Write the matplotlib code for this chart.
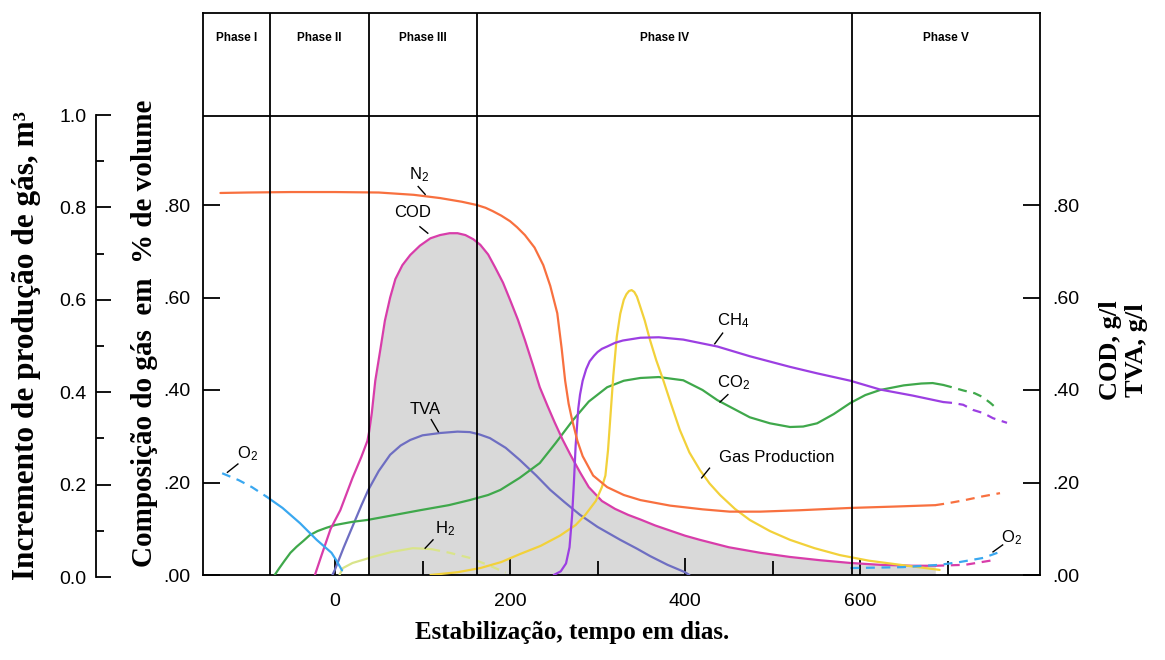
import matplotlib
matplotlib.use("Agg")
import matplotlib.pyplot as plt
import numpy as np

plt.rcParams['mathtext.fontset'] = 'custom'
plt.rcParams['mathtext.rm'] = 'Liberation Sans'
plt.rcParams['mathtext.it'] = 'Liberation Sans:italic'
plt.rcParams['mathtext.bf'] = 'Liberation Sans:bold'

# ---------------- data (days, fraction) ----------------
phase_bounds = [-74, 39, 162, 591]
phase_names = ["Phase I", "Phase II", "Phase III", "Phase IV", "Phase V"]

n2_days = [-131, -100, -50, 0, 50, 90, 120, 145, 162, 172, 180, 190, 200, 208, 217, 228, 238, 246, 254,
           259, 263, 267, 271, 277, 283, 295, 311, 330, 349, 383, 420, 451, 486, 531, 589, 640, 686]
n2_vals = [0.826, 0.827, 0.828, 0.828, 0.827, 0.822, 0.815, 0.807, 0.800, 0.794, 0.787, 0.777, 0.765,
           0.752, 0.735, 0.708, 0.670, 0.625, 0.566, 0.490, 0.420, 0.370, 0.335, 0.290, 0.257, 0.215,
           0.190, 0.173, 0.162, 0.150, 0.142, 0.137, 0.137, 0.140, 0.145, 0.148, 0.151]
n2_dash_days = [686, 700, 720, 740, 760]
n2_dash_vals = [0.151, 0.155, 0.162, 0.170, 0.177]

cod_days = [-23, -15, -5, 6, 20, 30, 37, 39, 42, 46, 52, 57, 63, 69, 77, 86, 97, 109, 120, 131, 140,
            149, 158, 166, 175, 183, 192, 200, 209, 217, 226, 234, 243, 251, 260, 269, 280, 290, 305,
            320, 335, 349, 366, 383, 400, 417, 450, 486, 520, 554, 589, 623, 660, 686]
cod_vals = [0.0, 0.045, 0.10, 0.14, 0.21, 0.255, 0.29, 0.31, 0.35, 0.42, 0.49, 0.55, 0.60, 0.64, 0.67,
            0.692, 0.712, 0.728, 0.735, 0.739, 0.739, 0.735, 0.726, 0.714, 0.693, 0.665, 0.632, 0.595,
            0.552, 0.508, 0.455, 0.406, 0.365, 0.330, 0.293, 0.260, 0.222, 0.190, 0.160, 0.143, 0.130,
            0.120, 0.107, 0.096, 0.085, 0.076, 0.060, 0.048, 0.039, 0.032, 0.026, 0.022, 0.020, 0.020]
cod_dash_days = [686, 720, 752]
cod_dash_vals = [0.020, 0.022, 0.032]

tva_days = [-3, 0, 10, 20, 30, 38, 50, 63, 75, 86, 100, 120, 140, 154, 165, 177, 195, 211, 230, 246,
            262, 280, 300, 326, 345, 360, 380, 400, 405]
tva_vals = [0.0, 0.012, 0.06, 0.105, 0.15, 0.184, 0.225, 0.26, 0.28, 0.292, 0.302, 0.307, 0.310, 0.309,
            0.304, 0.296, 0.275, 0.249, 0.215, 0.184, 0.158, 0.130, 0.104, 0.076, 0.057, 0.041, 0.022,
            0.006, 0.0]

ch4_days = [250, 258, 264, 268, 271, 273, 275, 278, 280, 283, 287, 291, 296, 300, 305, 311, 320, 329,
            349, 370, 398, 437, 474, 520, 551, 589, 623, 660, 695]
ch4_vals = [0.0, 0.008, 0.025, 0.06, 0.13, 0.20, 0.28, 0.36, 0.39, 0.42, 0.445, 0.462, 0.474, 0.482,
            0.489, 0.494, 0.502, 0.507, 0.513, 0.514, 0.509, 0.494, 0.473, 0.450, 0.436, 0.420, 0.401,
            0.388, 0.374]
ch4_dash_days = [695, 706, 718, 729, 741, 752, 768]
ch4_dash_vals = [0.374, 0.372, 0.368, 0.357, 0.350, 0.339, 0.329]

co2_days = [-69, -64, -58, -51, -44, -36, -29, -20, -10, 0, 20, 37, 60, 97, 130, 154, 175, 189, 211,
            234, 252, 272, 290, 311, 330, 349, 370, 398, 420, 437, 455, 474, 497, 520, 535, 551, 570,
            589, 606, 623, 650, 670, 683, 695]
co2_vals = [0.0, 0.014, 0.030, 0.048, 0.061, 0.074, 0.086, 0.095, 0.102, 0.108, 0.115, 0.119, 0.127,
            0.140, 0.151, 0.162, 0.173, 0.184, 0.210, 0.242, 0.285, 0.335, 0.375, 0.406, 0.420, 0.426,
            0.428, 0.421, 0.400, 0.378, 0.360, 0.341, 0.328, 0.320, 0.321, 0.328, 0.348, 0.372, 0.389,
            0.400, 0.410, 0.414, 0.415, 0.411]
co2_dash_days = [695, 705, 718, 731, 740, 749, 758]
co2_dash_vals = [0.411, 0.406, 0.399, 0.393, 0.385, 0.372, 0.357]

gas_days = [109, 140, 166, 190, 211, 235, 257, 275, 286, 298, 305, 309, 312, 315, 318, 322, 326, 330,
            333, 336, 339, 342, 345, 348, 354, 360, 367, 375, 384, 394, 405, 417, 428, 440, 457, 474,
            497, 520, 548, 577, 610, 646, 691]
gas_vals = [0.0, 0.006, 0.015, 0.028, 0.045, 0.063, 0.085, 0.108, 0.130, 0.160, 0.190, 0.215, 0.27,
            0.35, 0.43, 0.515, 0.565, 0.595, 0.607, 0.614, 0.616, 0.612, 0.602, 0.585, 0.550, 0.508,
            0.465, 0.422, 0.370, 0.314, 0.265, 0.227, 0.198, 0.173, 0.143, 0.119, 0.095, 0.076, 0.058,
            0.043, 0.031, 0.022, 0.011]

o2_dash_days = [-129, -110, -95, -78]
o2_dash_vals = [0.220, 0.205, 0.190, 0.169]
o2_days = [-78, -60, -40, -21, -4, 2, 8]
o2_vals = [0.169, 0.145, 0.112, 0.076, 0.048, 0.03, 0.01]
o2_end_days = [589, 620, 649, 691, 714, 741, 757]
o2_end_vals = [0.015, 0.016, 0.017, 0.022, 0.028, 0.037, 0.048]

h2_days = [5, 9, 20, 43, 65, 89, 110]
h2_vals = [0.0, 0.015, 0.026, 0.039, 0.050, 0.058, 0.056]
h2_dash_days = [110, 131, 154, 177, 195]
h2_dash_vals = [0.056, 0.048, 0.037, 0.020, 0.005]

y_ticks = [0.0, 0.2, 0.4, 0.6, 0.8]
y_ticklabels = [".00", ".20", ".40", ".60", ".80"]
outer_ticks = [0.0, 0.2, 0.4, 0.6, 0.8, 1.0]
outer_ticklabels = ["0.0", "0.2", "0.4", "0.6", "0.8", "1.0"]
x_ticks = [0, 200, 400, 600]
x_minor = [100, 300, 500, 700]

# ---------------- figure ----------------
W, H = 1165, 660
fig = plt.figure(figsize=(W / 100, H / 100), dpi=100)

def fx(px):
    return px / W

def fy(py):
    return (H - py) / H

ax = fig.add_axes([fx(203), fy(575), fx(1040) - fx(203), fy(13) - fy(575)])
ax.set_xlim(-150.9, 805.7)
ax.set_ylim(0, 562 / 462.5)

tickfont = dict(family=['Liberation Sans Narrow', 'Liberation Sans'], size=14)
c_n2 = '#F8703F'
c_cod = '#D83DAA'
c_tva = '#6E6EC2'
c_ch4 = '#9C3FE2'
c_co2 = '#3FA84B'
c_gas = '#F2D13A'
c_o2 = '#3AA8F0'
c_h2 = '#D9E48A'
lw = 1.6
dash = (0, (4, 3))

cd = np.array(cod_days, dtype=float)
cv = np.array(cod_vals)
ax.fill_between(cd, 0, cv, where=cd >= phase_bounds[1], color='#D9D9D9', zorder=1, linewidth=0)

def line(x, y, c, z, ls='-'):
    ax.plot(x, y, color=c, lw=lw, ls=ls, zorder=z, solid_joinstyle='round', solid_capstyle='round')

line(h2_days, h2_vals, c_h2, 3)
line(h2_dash_days, h2_dash_vals, c_h2, 3, dash)
line(tva_days, tva_vals, c_tva, 3)
line(co2_days, co2_vals, c_co2, 3)
line(co2_dash_days, co2_dash_vals, c_co2, 3, dash)
line(cod_days, cod_vals, c_cod, 4)
line(cod_dash_days, cod_dash_vals, c_cod, 4, dash)
line(gas_days, gas_vals, c_gas, 4)
line(ch4_days, ch4_vals, c_ch4, 4)
line(ch4_dash_days, ch4_dash_vals, c_ch4, 4, dash)
line(n2_days, n2_vals, c_n2, 5)
line(n2_dash_days, n2_dash_vals, c_n2, 5, dash)
line(o2_dash_days, o2_dash_vals, c_o2, 5, dash)
line(o2_days, o2_vals, c_o2, 5)
line(o2_end_days, o2_end_vals, c_o2, 5, dash)

# phase frame
top = ax.get_ylim()[1]
ax.vlines(phase_bounds, 0, top, color='black', lw=1.3, zorder=6)
ax.axhline(0.992, color='black', lw=1.3, zorder=6)
edges = [ax.get_xlim()[0]] + phase_bounds + [ax.get_xlim()[1]]
for i, name in enumerate(phase_names):
    ax.text((edges[i] + edges[i + 1]) / 2, 1.161, name, ha='center', va='center',
            fontsize=8.5, fontweight='bold', family='Liberation Sans')

for s in ax.spines.values():
    s.set_linewidth(1.3)

ax.set_yticks(y_ticks)
ax.set_yticklabels(y_ticklabels)
ax.set_xticks(x_ticks)
ax.set_xticks(x_minor, minor=True)
ax.yaxis.set_ticks_position('both')
ax.tick_params(axis='y', which='major', direction='in', length=12, width=1.3, pad=9,
               labelright=True, labelleft=True)
ax.tick_params(axis='x', which='major', direction='in', length=12, width=1.3, pad=13)
ax.tick_params(axis='x', which='minor', direction='in', length=10, width=1.3)
for lab in ax.get_xticklabels() + ax.get_yticklabels():
    lab.set_fontfamily(tickfont['family'])
    lab.set_fontsize(tickfont['size'])

# curve annotations
lblfont = dict(family='Liberation Sans', size=12, color='black')

def label(xl, yl, text, x0, y0, x1, y1):
    ax.text(xl, yl, text, ha='center', va='center', zorder=7, **lblfont)
    ax.plot([x0, x1], [y0, y1], color='black', lw=1.0, zorder=7)

label(-100, 0.263, r'$\mathregular{O_2}$', -111, 0.24, -123, 0.222)
label(96, 0.865, r'$\mathregular{N_2}$', 95, 0.84, 103, 0.823)
label(89, 0.783, 'COD', 97, 0.753, 106, 0.739)
label(103, 0.358, 'TVA', 110, 0.336, 118, 0.31)
label(126, 0.10, r'$\mathregular{H_2}$', 112, 0.076, 103, 0.058)
label(455, 0.55, r'$\mathregular{CH_4}$', 443, 0.523, 434, 0.50)
label(455, 0.415, r'$\mathregular{CO_2}$', 449, 0.39, 440, 0.374)
label(505, 0.255, 'Gas Production', 428, 0.231, 419, 0.21)
label(773, 0.08, r'$\mathregular{O_2}$', 763, 0.065, 752, 0.05)

# outer left axis
ax0 = fig.add_axes([fx(96), fy(577), 0.01, fy(115) - fy(577)])
ax0.set_ylim(0, 1)
ax0.set_xlim(0, 1)
for k in ['top', 'right', 'bottom']:
    ax0.spines[k].set_visible(False)
ax0.spines['left'].set_linewidth(1.3)
ax0.patch.set_alpha(0)
ax0.set_xticks([])
ax0.set_yticks(outer_ticks)
ax0.set_yticklabels(outer_ticklabels)
ax0.set_yticks(np.arange(0.1, 1.0, 0.2), minor=True)
ax0.tick_params(axis='y', which='major', direction='in', length=11, width=1.3, pad=7)
ax0.tick_params(axis='y', which='minor', direction='in', length=6, width=1.3)
for lab in ax0.get_yticklabels():
    lab.set_fontfamily(tickfont['family'])
    lab.set_fontsize(tickfont['size'])

# titles
serif = dict(family='Liberation Serif', fontweight='bold')
fig.text(fx(27), fy(345), 'Incremento de produção de gás, m³', rotation=90, ha='center',
         va='center', fontsize=22.5, **serif)
fig.text(fx(145), fy(333), 'Composição do gás  em  % de volume', rotation=90, ha='center',
         va='center', fontsize=21, **serif)
fig.text(fx(1110), fy(350), 'COD, g/l', rotation=90, ha='center', va='center', fontsize=19, **serif)
fig.text(fx(1136), fy(350), 'TVA, g/l', rotation=90, ha='center', va='center', fontsize=19, **serif)
fig.text(fx(572), fy(632), 'Estabilização, tempo em dias.', ha='center', va='center',
         fontsize=18, **serif)

fig.savefig('out.png', dpi=100)
